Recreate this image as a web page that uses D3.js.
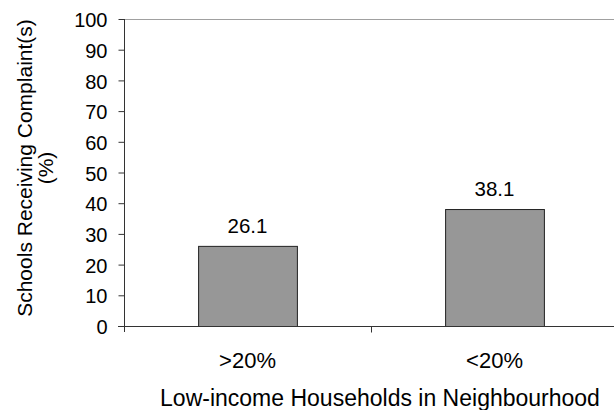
<!DOCTYPE html>
<html>
<head>
<meta charset="utf-8">
<script src="https://cdn.jsdelivr.net/npm/d3@7"></script>
<style>
  body { margin: 0; background: #fff; }
  svg text { font-family: "Liberation Sans", Arial, sans-serif; fill: #000; }
</style>
</head>
<body>
<div id="chart"></div>
<script>
const categories = ['>20%', '<20%'];
const values = [26.1, 38.1];
const yTicks = [0, 10, 20, 30, 40, 50, 60, 70, 80, 90, 100];

const w = 614;
const h = 410;
const padLeft = 124;
const padRight = 618;
const padTop = 19;
const padBottom = 326;

const svg = d3.select('#chart')
    .append('svg')
    .attr('width', w)
    .attr('height', h);

const xScale = d3.scaleBand()
    .domain(categories)
    .range([padLeft, padRight])
    .padding(0);

const yScale = d3.scaleLinear()
    .domain([0, 100])
    .range([padBottom, padTop]);

// top frame line
svg.append('line')
   .attr('x1', padLeft).attr('x2', w)
   .attr('y1', yScale(100) + 0.5).attr('y2', yScale(100) + 0.5)
   .attr('stroke', '#a0a0a0');

const yAxis = d3.axisLeft(yScale).tickValues(yTicks).tickSize(6).tickPadding(11);
const yG = svg.append('g')
   .attr('transform', 'translate(' + (padLeft + 0.5) + ',0)')
   .call(yAxis);
yG.select('.domain').remove();
yG.append('line')
   .attr('x1', 0).attr('x2', 0)
   .attr('y1', yScale(100)).attr('y2', padBottom + 6)
   .attr('stroke', '#333');
yG.selectAll('.tick line').attr('stroke', '#333');
yG.selectAll('.tick text')
  .attr('dy', '0.38em')
  .style('font-size', '20px');

const bw = xScale.bandwidth() * 0.4;

svg.selectAll('.bar')
   .data(values)
   .enter()
   .append('rect')
   .attr('class', 'bar')
   .attr('x', (d, i) => xScale(categories[i]) + (xScale.bandwidth() - bw) / 2 + 0.5)
   .attr('y', d => yScale(d) + 0.5)
   .attr('width', bw)
   .attr('height', d => yScale(0) - yScale(d))
   .attr('fill', '#979797')
   .attr('stroke', '#222')
   .attr('stroke-width', 1);

svg.selectAll('.val')
   .data(values)
   .enter()
   .append('text')
   .attr('x', (d, i) => xScale(categories[i]) + xScale.bandwidth() / 2)
   .attr('y', d => yScale(d) - 13)
   .attr('text-anchor', 'middle')
   .style('font-size', '20.5px')
   .text(d => d.toFixed(1));

// x axis
const xAxis = d3.axisBottom(xScale).tickSize(0);
const xG = svg.append('g')
   .attr('transform', 'translate(0,' + (padBottom + 0.5) + ')')
   .call(xAxis);
xG.select('.domain').remove();
xG.append('line')
   .attr('x1', padLeft - 6).attr('x2', w)
   .attr('y1', 0).attr('y2', 0)
   .attr('stroke', '#333');
xG.selectAll('.tick text')
  .attr('y', 41)
  .attr('dy', 0)
  .style('font-size', '22px');
xG.append('line')
   .attr('x1', xScale(categories[1]) + 0.5).attr('x2', xScale(categories[1]) + 0.5)
   .attr('y1', 0).attr('y2', 6)
   .attr('stroke', '#333');

svg.append('text')
   .attr('x', 380)
   .attr('y', 406)
   .attr('text-anchor', 'middle')
   .style('font-size', '23px')
   .text('Low-income Households in Neighbourhood');

const yTitle = svg.append('text')
   .attr('transform', 'translate(32,168) rotate(-90)')
   .attr('text-anchor', 'middle')
   .style('font-size', '21px');
yTitle.append('tspan').attr('x', 0).attr('dy', 0).text('Schools Receiving Complaint(s)');
yTitle.append('tspan').attr('x', 0).attr('dy', 21).text('(%)');
</script>
</body>
</html>
